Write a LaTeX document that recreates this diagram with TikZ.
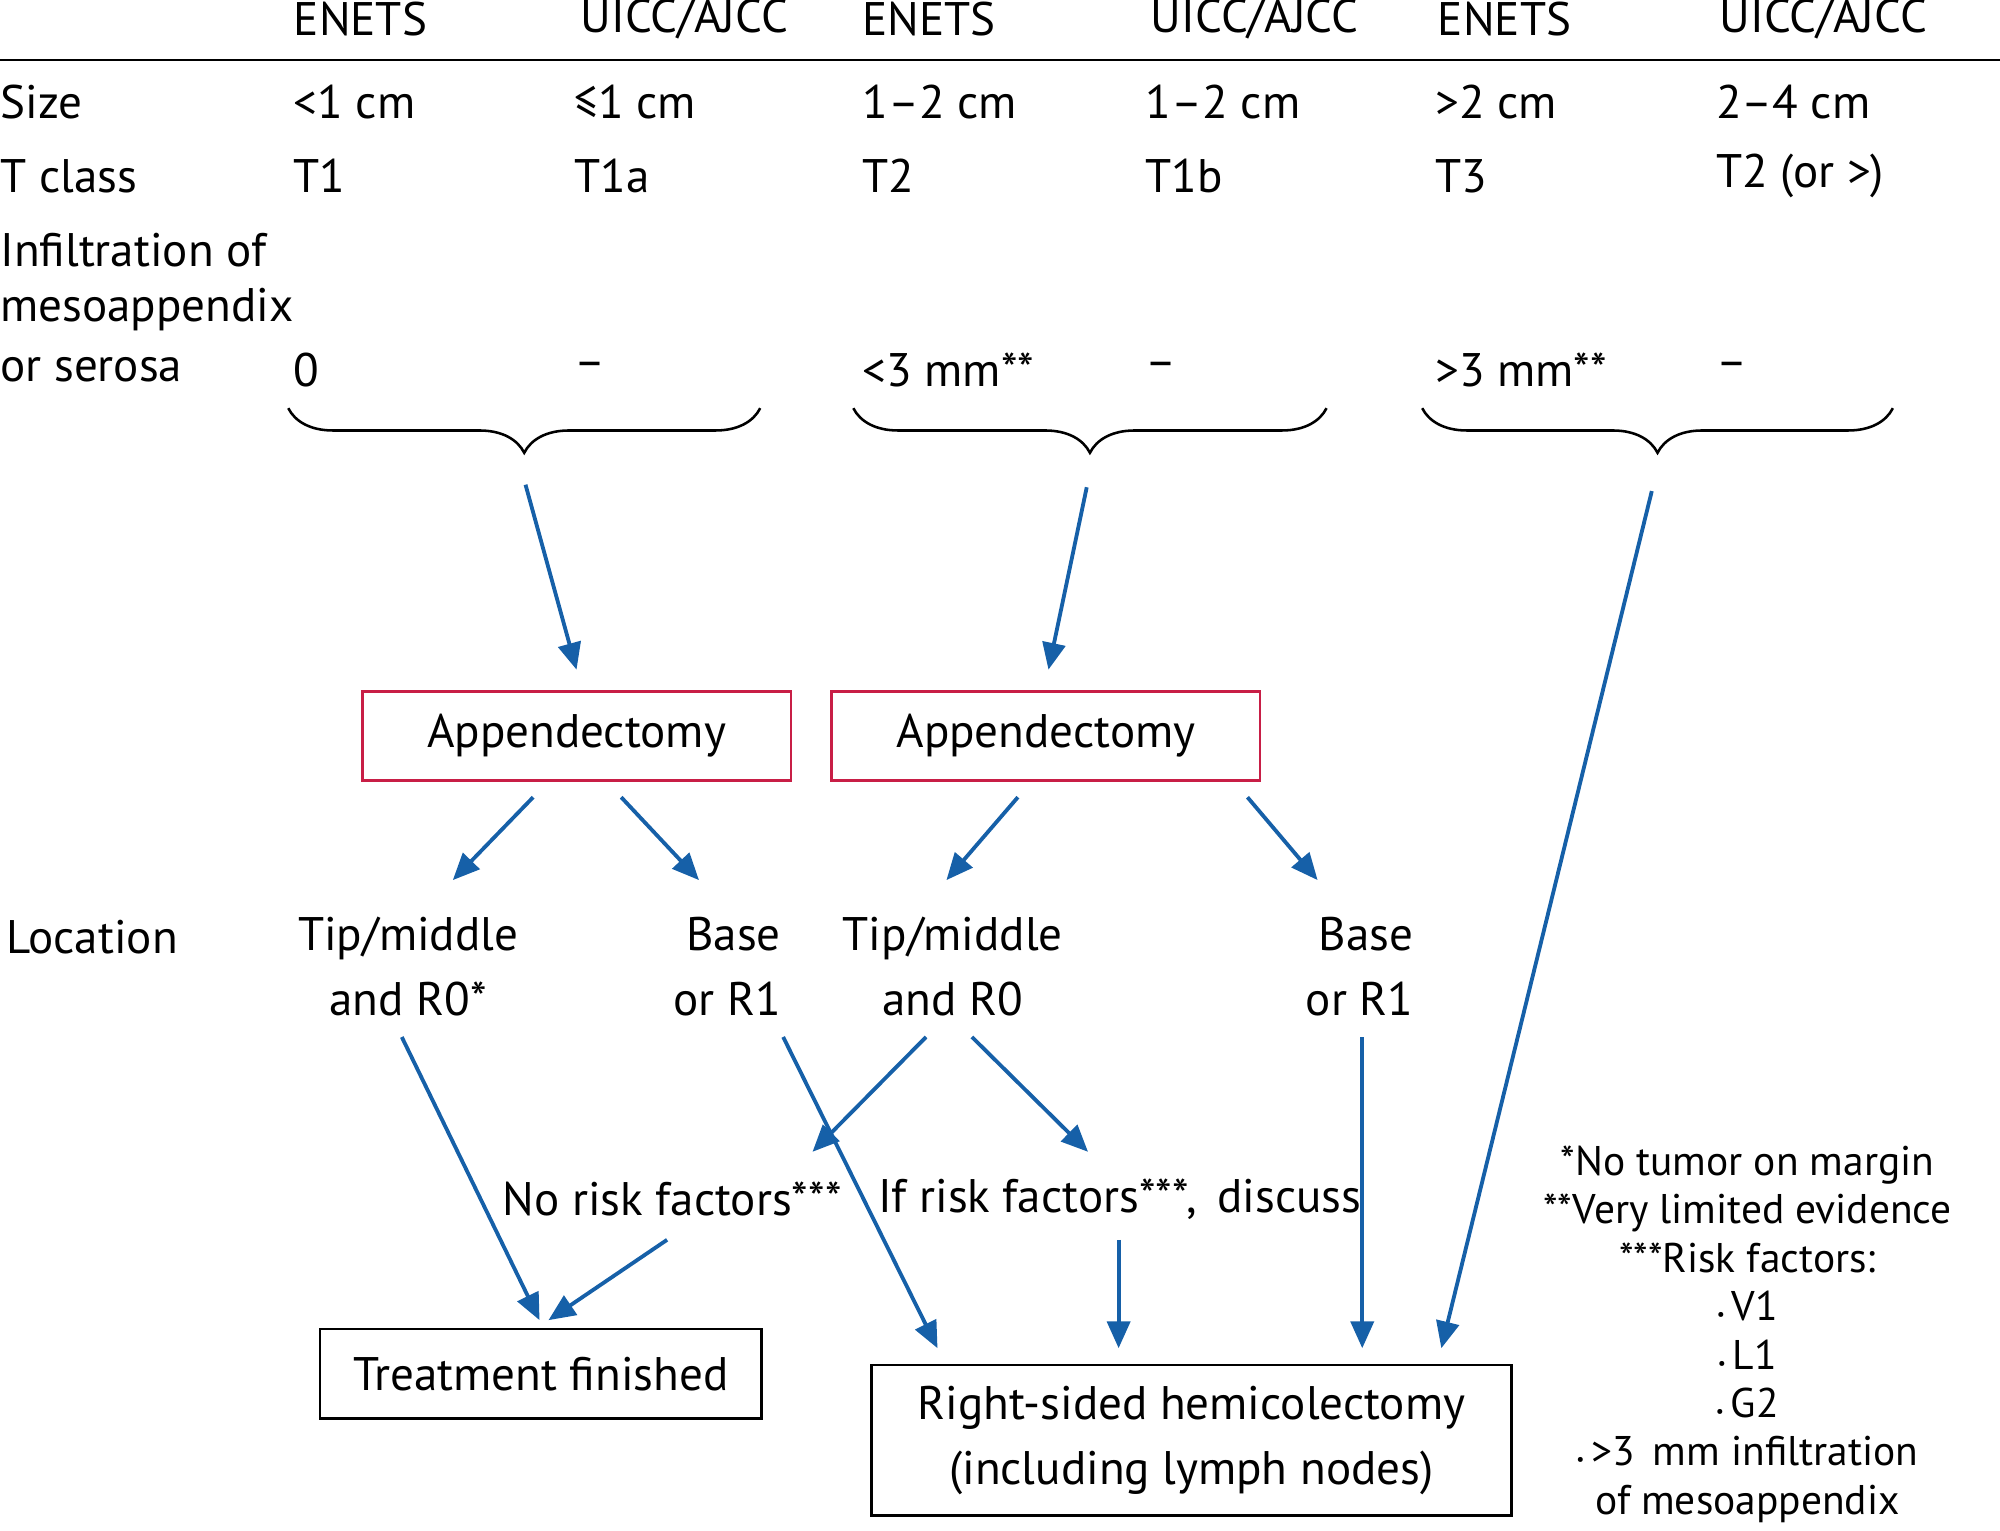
\documentclass[tikz,border=0pt]{standalone}
\usepackage{fontspec}
\setmainfont{PT Sans}
\usetikzlibrary{arrows.meta,decorations.pathreplacing}
\definecolor{arrowblue}{RGB}{22,96,168}
\definecolor{boxred}{RGB}{200,30,70}
\tikzset{
  txt/.style={inner sep=0pt,font=\fontsize{21}{29}\selectfont},
  lbl/.style={txt,anchor=west},
  note/.style={inner sep=0pt,font=\fontsize{18.5}{21.6}\selectfont,align=center},
  flow/.style={draw=arrowblue,line width=0.06cm,-{Triangle[length=0.42cm,width=0.36cm]}},
  opbox/.style={draw=boxred,line width=0.04cm,minimum width=6.72cm,minimum height=1.4cm,txt},
  endbox/.style={draw=black,line width=0.04cm,txt,align=center},
  grp/.style={draw,line width=0.04cm,decorate,decoration={brace,mirror,amplitude=0.7cm}}
}
\begin{document}
\begin{tikzpicture}[x=0.02cm,y=-0.02cm]
\useasboundingbox (0,0) rectangle (1568,1200);

% Header
\foreach \x/\t in {230/ENETS,455/{UICC/AJCC},676/ENETS,902/{UICC/AJCC},1127/ENETS,1348/{UICC/AJCC}}
  \node[lbl] at (\x,15) {\t};
\draw[line width=0.04cm] (0,47) -- (1568,47);

% Rows
\node[lbl] at (0,80) {Size};
\node[lbl] at (0,138) {T class};
\node[lbl] at (0,196) {Infiltration of};
\node[lbl] at (0,243) {mesoappendix};
\node[lbl] at (0,290) {or serosa};
\foreach \x/\a/\b/\c in {230/{<1 cm}/T1/0, 450/{≤1 cm}/T1a/–, 676/{1–2 cm}/T2/{<3 mm**},
    898/{1–2 cm}/T1b/–, 1125/{>2 cm}/T3/{>3 mm**}, 1345/{2–4 cm}/{T2 (or >)}/–} {
  \node[lbl] at (\x,80) {\a};
  \node[lbl] at (\x,138) {\b};
  \node[lbl] at (\x,290) {\c};
}

% Braces
\draw[grp] (226,320) -- (596,320);
\draw[grp] (669,320) -- (1040,320);
\draw[grp] (1115,320) -- (1484,320);
\coordinate (brA) at (412,380);
\coordinate (brB) at (852,382);
\coordinate (brC) at (1295,385);

% Boxes
\node[opbox] (appA) at (452,577) {Appendectomy};
\node[opbox] (appB) at (820,577) {Appendectomy};
\node[endbox,minimum width=6.92cm,minimum height=1.4cm] (done) at (424,1077) {Treatment finished};
\node[endbox,minimum width=10.04cm,minimum height=2.36cm] (hemi) at (934,1129)
  {Right-sided hemicolectomy\\(including lymph nodes)};

% Location
\node[lbl] at (5,735) {Location};
\node[txt,align=center] (tipA) at (320,758) {Tip/middle\\and R0*};
\node[txt,align=right] (baseA) at (570,758) {Base\\or R1};
\node[txt,align=center] (tipB) at (747,758) {Tip/middle\\and R0};
\node[txt,align=right] (baseB) at (1066,758) {Base\\or R1};

\node[txt] (norisk) at (527,940) {No risk factors***};
\node[txt] (ifrisk) at (878,940) {If risk factors***,\, discuss};

% Notes
\node[note] (notes) at (1370,1046) {*No tumor on margin\\**Very limited evidence\\***Risk factors:\\
  {\footnotesize\textbullet}\,V1\\{\footnotesize\textbullet}\,L1\\{\footnotesize\textbullet}\,G2\\
  {\footnotesize\textbullet}\,>3\, mm infiltration\\of mesoappendix};

% Arrow end points
\coordinate (inA) at (452,525);
\coordinate (inB) at (822,525);
\coordinate (inH) at (1130,1057);
\coordinate (toTipA) at (355,690);
\coordinate (toBaseA) at (548,690);
\coordinate (toTipB) at (742,690);
\coordinate (toBaseB) at (1033,690);
\coordinate (outTipA) at (315,813);
\coordinate (outBaseA) at (614,813);
\coordinate (outTipB1) at (726,813);
\coordinate (outTipB2) at (762,813);
\coordinate (outBaseB) at (1068,813);
\coordinate (endNo) at (637,903);
\coordinate (endIf) at (853,903);

\draw[flow] (brA) -- (inA);
\draw[flow] (brB) -- (inB);
\draw[flow] (brC) -- (inH);
\draw[flow] (418,625) -- (toTipA);
\draw[flow] (487,625) -- (toBaseA);
\draw[flow] (798,625) -- (toTipB);
\draw[flow] (978,625) -- (toBaseB);
\draw[flow] (outTipA) -- (423,1035);
\draw[flow] (outBaseA) -- (735,1057);
\draw[flow] (outTipB1) -- (endNo);
\draw[flow] (outTipB2) -- (endIf);
\draw[flow] (outBaseB) -- (1068,1057);
\draw[flow] (523,972) -- (430,1035);
\draw[flow] (877,972) -- (877,1057);
\end{tikzpicture}
\end{document}
